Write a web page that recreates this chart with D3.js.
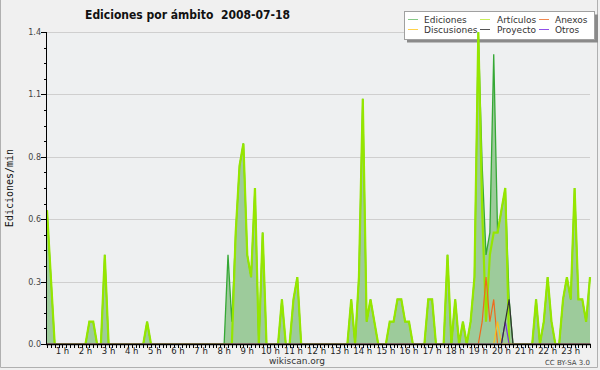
<!DOCTYPE html>
<html>
<head>
<meta charset="utf-8">
<script src="https://cdn.jsdelivr.net/npm/d3@7"></script>
<style>
body { margin: 0; background: #f0f0f0; }
svg { display: block; font-family: "DejaVu Sans", sans-serif; }
</style>
</head>
<body>
<div id="chart"></div>
<script>
var width = 600,
    height = 370;

var plotLeft = 47, plotRight = 590, plotTop = 32, plotBottom = 344;

// one point every 10 minutes, first at 00:20, last at 23:50
var firstHour = 20 / 60, stepHour = 10 / 60;

var ediciones = [
  0.6, 0.3, 0, 0,              // 0 h (from 0:20)
  0, 0, 0, 0, 0, 0,            // 1 h
  0, 0.1, 0.1, 0, 0, 0.4,      // 2 h
  0, 0, 0, 0, 0, 0,            // 3 h
  0, 0, 0, 0, 0.1, 0,          // 4 h
  0, 0, 0, 0, 0, 0,            // 5 h
  0, 0, 0, 0, 0, 0,            // 6 h
  0, 0, 0, 0, 0, 0,            // 7 h
  0, 0.4, 0.1, 0.5, 0.8, 0.9,  // 8 h
  0.4, 0.3, 0.7, 0, 0.5, 0,    // 9 h
  0, 0, 0, 0.2, 0, 0,          // 10 h
  0.2, 0.3, 0, 0, 0, 0,        // 11 h
  0, 0, 0, 0, 0, 0,            // 12 h
  0, 0, 0, 0.2, 0, 0.3,        // 13 h
  1.1, 0.1, 0.2, 0.1, 0, 0,    // 14 h
  0, 0.1, 0.1, 0.2, 0.2, 0.1,  // 15 h
  0.1, 0, 0, 0, 0, 0.2,        // 16 h
  0.2, 0, 0, 0, 0.4, 0,        // 17 h
  0.2, 0, 0.1, 0, 0.1, 0.3,    // 18 h
  1.4, 0.8, 0.4, 0.5, 1.3, 0.5,// 19 h
  0.6, 0.7, 0.2, 0, 0, 0,      // 20 h
  0, 0, 0, 0.2, 0, 0.1,        // 21 h
  0.3, 0.1, 0, 0, 0.2, 0.3,    // 22 h
  0.2, 0.7, 0.2, 0.2, 0.1, 0.3 // 23 h
];

var articulos = [
  0.6, 0.3, 0, 0,
  0, 0, 0, 0, 0, 0,
  0, 0.1, 0.1, 0, 0, 0.4,
  0, 0, 0, 0, 0, 0,
  0, 0, 0, 0, 0.1, 0,
  0, 0, 0, 0, 0, 0,
  0, 0, 0, 0, 0, 0,
  0, 0, 0, 0, 0, 0,
  0, 0, 0, 0.5, 0.8, 0.9,
  0.4, 0.3, 0.7, 0, 0.5, 0,
  0, 0, 0, 0.2, 0, 0,
  0.2, 0.3, 0, 0, 0, 0,
  0, 0, 0, 0, 0, 0,
  0, 0, 0, 0.2, 0, 0.3,
  1.1, 0.1, 0.2, 0.1, 0, 0,
  0, 0.1, 0.1, 0.2, 0.2, 0.1,
  0.1, 0, 0, 0, 0, 0.2,
  0.2, 0, 0, 0, 0.4, 0,
  0.2, 0, 0.1, 0, 0.1, 0.3,
  1.4, 0.6, 0.1, 0.4, 0.5, 0.5,
  0.6, 0.7, 0, 0, 0, 0,
  0, 0, 0, 0.2, 0, 0.1,
  0.3, 0.1, 0, 0, 0.2, 0.3,
  0.2, 0.7, 0.2, 0.2, 0.1, 0.3
];

// the small series are only non zero around 19-20 h, index = (hour*6 + slot) - 2
var anexos = {};      anexos[19*6+1-2] = 0.1; anexos[19*6+2-2] = 0.3; anexos[19*6+3-2] = 0.1; anexos[19*6+4-2] = 0.2;
var discusiones = {}; discusiones[19*6+5-2] = 0.1;
var proyecto = {};    proyecto[20*6+1-2] = 0.1; proyecto[20*6+2-2] = 0.2;
var otros = {};       otros[20*6+1-2] = 0.1;

var yMajor = [0, 0.28, 0.56, 0.84, 1.12, 1.4];
var hourLabels = ["1 h","2 h","3 h","4 h","5 h","6 h","7 h","8 h","9 h","10 h","11 h","12 h",
                  "13 h","14 h","15 h","16 h","17 h","18 h","19 h","20 h","21 h","22 h","23 h"];

var legendNames = ["Ediciones", "Artículos", "Anexos", "Discusiones", "Proyecto", "Otros"];
var legendColors = ["#86c986", "#c8ee5a", "#f08850", "#ffd24a", "#555555", "#9050e8"];

function toSeries(obj) {
  return ediciones.map(function(d, i) { return obj[i] || 0; });
}

var svg = d3.select("#chart").append("svg")
    .attr("width", width)
    .attr("height", height);

svg.append("rect").attr("width", width).attr("height", height).attr("fill", "#f0f0f0");
svg.append("path")
    .attr("d", "M0.5,0 V367.5 H597.5 V0")
    .attr("fill", "none").attr("stroke", "#b0b0b0");

var x = d3.scaleLinear()
    .domain([firstHour, firstHour + stepHour * (ediciones.length - 1)])
    .range([plotLeft, plotRight]);
var y = d3.scaleLinear().domain([0, 1.4]).range([plotBottom, plotTop]);

function tAt(i) { return firstHour + i * stepHour; }

svg.append("rect")
    .attr("x", plotLeft).attr("y", plotTop)
    .attr("width", plotRight - plotLeft).attr("height", plotBottom - plotTop)
    .attr("fill", "#eef0f1");

// grid
svg.append("g").selectAll("line").data(yMajor.slice(1)).join("line")
    .attr("x1", plotLeft).attr("x2", plotRight)
    .attr("y1", d => Math.round(y(d)) + 0.5).attr("y2", d => Math.round(y(d)) + 0.5)
    .attr("stroke", "#cfcfcf");

// legend (data lines are drawn over it)
var lg = svg.append("g");
lg.append("rect").attr("x", 407).attr("y", 14.5).attr("width", 191).attr("height", 28).attr("fill", "#8a8a8a");
lg.append("rect").attr("x", 404.5).attr("y", 11.5).attr("width", 190).attr("height", 28)
    .attr("fill", "#ffffff").attr("stroke", "#a0a0a0");
var colX = [408, 480, 539], textX = [424, 497, 555], rowY = [19.5, 29.5];
legendNames.forEach(function(name, i) {
  var c = i % 3, r = Math.floor(i / 3);
  lg.append("line").attr("x1", colX[c]).attr("x2", colX[c] + 10)
      .attr("y1", rowY[r]).attr("y2", rowY[r]).attr("stroke", legendColors[i]);
  lg.append("text").attr("x", textX[c]).attr("y", rowY[r] + 3.5)
      .attr("font-size", 9).attr("fill", "#333").text(name);
});

var clip = svg.append("clipPath").attr("id", "plotclip").append("rect")
    .attr("x", plotLeft).attr("y", 0).attr("width", plotRight - plotLeft + 2).attr("height", plotBottom - 0.5);

var g = svg.append("g").attr("clip-path", "url(#plotclip)");

var area = d3.area().x((d, i) => x(tAt(i))).y0(y(0)).y1(d => y(d));
var line = d3.line().x((d, i) => x(tAt(i))).y(d => y(d));

g.append("path").datum(ediciones).attr("d", area).attr("fill", "#9dcb9b");
g.append("path").datum(ediciones).attr("d", line).attr("fill", "none")
    .attr("stroke", "#35a835").attr("stroke-width", 1.3);
g.append("path").datum(articulos).attr("d", line).attr("fill", "none")
    .attr("stroke", "#95e600").attr("stroke-width", 2.2);

[[anexos, "#ee6a1e"], [discusiones, "#f8c020"], [otros, "#8030e0"], [proyecto, "#333333"]].forEach(function(s) {
  g.append("path").datum(toSeries(s[0])).attr("d", line).attr("fill", "none")
      .attr("stroke", s[1]).attr("stroke-width", 1.2);
});

// y axis
var yMinor = d3.range(0, 141, 7).map(v => v / 100);
var ya = svg.append("g");
ya.selectAll("line.minor").data(yMinor).join("line")
    .attr("x1", plotLeft - 3).attr("x2", plotLeft)
    .attr("y1", d => Math.round(y(d)) + 0.5).attr("y2", d => Math.round(y(d)) + 0.5)
    .attr("stroke", "#000");
ya.selectAll("line.major").data(yMajor).join("line")
    .attr("x1", plotLeft - 6).attr("x2", plotLeft)
    .attr("y1", d => Math.round(y(d)) + 0.5).attr("y2", d => Math.round(y(d)) + 0.5)
    .attr("stroke", "#000");
ya.selectAll("text").data(yMajor).join("text")
    .attr("x", plotLeft - 6).attr("y", d => y(d) + 3)
    .attr("text-anchor", "end").attr("font-size", 8).attr("fill", "#444")
    .text(d => d3.format(".1f")(d));
ya.append("line").attr("x1", plotLeft - 0.5).attr("x2", plotLeft - 0.5)
    .attr("y1", plotTop).attr("y2", plotBottom + 1).attr("stroke", "#000");

// x axis
var xa = svg.append("g");
xa.selectAll("line").data(ediciones).join("line")
    .attr("x1", (d, i) => Math.round(x(tAt(i))) + 0.5).attr("x2", (d, i) => Math.round(x(tAt(i))) + 0.5)
    .attr("y1", plotBottom).attr("y2", plotBottom + 4)
    .attr("stroke", "#000");
xa.append("line").attr("x1", plotLeft - 1).attr("x2", plotRight + 1)
    .attr("y1", plotBottom + 0.5).attr("y2", plotBottom + 0.5).attr("stroke", "#000").attr("stroke-width", 1.5);
xa.selectAll("text").data(hourLabels).join("text")
    .attr("x", (d, i) => x(i + 1)).attr("y", plotBottom + 10)
    .attr("text-anchor", "middle").attr("font-size", 8.5).attr("fill", "#222")
    .text(d => d);

// texts
svg.append("text").attr("x", 85).attr("y", 19)
    .attr("font-size", 12).attr("font-weight", "bold").attr("fill", "#111")
    .style("white-space", "pre")
    .attr("textLength", 205).attr("lengthAdjust", "spacingAndGlyphs")
    .text("Ediciones por ámbito  2008-07-18");

svg.append("text").attr("transform", "translate(13,188) rotate(-90)")
    .attr("text-anchor", "middle").attr("font-size", 10)
    .attr("font-family", "DejaVu Sans Mono").attr("fill", "#111")
    .text("Ediciones/min");

svg.append("text").attr("x", 297).attr("y", 364)
    .attr("text-anchor", "middle").attr("font-size", 9).attr("fill", "#333")
    .text("wikiscan.org");

svg.append("text").attr("x", 590).attr("y", 365)
    .attr("text-anchor", "end").attr("font-size", 7).attr("fill", "#444")
    .text("CC BY-SA 3.0");
</script>
</body>
</html>
